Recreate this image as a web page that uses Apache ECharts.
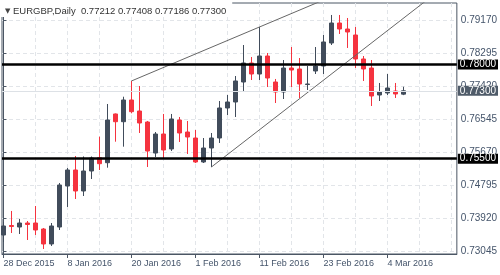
<!DOCTYPE html>
<html><head><meta charset="utf-8">
<script src="https://cdn.jsdelivr.net/npm/echarts@6/dist/echarts.min.js"></script>
<style>html,body{margin:0;padding:0;background:#fff}#c{width:500px;height:275px}</style>
</head><body><div id="c"></div>
<script>
const dates = ['28 Dec 2015','29 Dec 2015','30 Dec 2015','31 Dec 2015','4 Jan 2016','5 Jan 2016','6 Jan 2016','7 Jan 2016',
  '8 Jan 2016','11 Jan 2016','12 Jan 2016','13 Jan 2016','14 Jan 2016','15 Jan 2016','18 Jan 2016','19 Jan 2016',
  '20 Jan 2016','21 Jan 2016','22 Jan 2016','25 Jan 2016','26 Jan 2016','27 Jan 2016','28 Jan 2016','29 Jan 2016',
  '1 Feb 2016','2 Feb 2016','3 Feb 2016','4 Feb 2016','5 Feb 2016','8 Feb 2016','9 Feb 2016','10 Feb 2016',
  '11 Feb 2016','12 Feb 2016','15 Feb 2016','16 Feb 2016','17 Feb 2016','18 Feb 2016','19 Feb 2016','22 Feb 2016',
  '23 Feb 2016','24 Feb 2016','25 Feb 2016','26 Feb 2016','29 Feb 2016','1 Mar 2016','2 Mar 2016','3 Mar 2016',
  '4 Mar 2016','7 Mar 2016','8 Mar 2016'];
const open = [0.73477,0.73729,0.73689,0.73795,0.73795,0.73636,0.73239,0.73689,0.74776,0.75201,0.74644,0.75174,0.75527,0.75394,0.76686,0.76481,0.77057,0.76765,0.76473,0.75651,0.76155,0.75758,0.76526,0.76208,0.76049,0.75413,0.75784,0.76049,0.76845,0.77004,0.77534,0.78038,0.77746,0.78223,0.77534,0.77269,0.77905,0.77879,0.77468,0.77826,0.77958,0.78568,0.79098,0.78939,0.78780,0.78144,0.77905,0.77189,0.77242,0.77295,0.77212];
const close = [0.73716,0.73703,0.73795,0.73756,0.73610,0.73239,0.73716,0.74803,0.75201,0.74644,0.75174,0.75519,0.75368,0.76526,0.76481,0.77057,0.76747,0.76447,0.75704,0.76155,0.75731,0.76553,0.76182,0.76076,0.75413,0.75784,0.76049,0.76845,0.77004,0.77561,0.78038,0.77746,0.78223,0.77640,0.77269,0.77905,0.77852,0.77481,0.77481,0.77958,0.78595,0.79098,0.78939,0.78860,0.78144,0.77879,0.77163,0.77269,0.77375,0.77216,0.77300];
const high = [0.73822,0.74114,0.73901,0.73848,0.74246,0.73663,0.73795,0.74856,0.75254,0.75572,0.75560,0.75559,0.76084,0.76951,0.76699,0.77144,0.77561,0.77428,0.76500,0.76208,0.76686,0.76686,0.76606,0.76500,0.76261,0.76049,0.76182,0.77030,0.77189,0.77693,0.78515,0.78197,0.78992,0.78303,0.77614,0.78117,0.78462,0.78170,0.77958,0.78462,0.78780,0.79311,0.79311,0.79231,0.78992,0.78223,0.78117,0.77508,0.77746,0.77508,0.77408];
const low = [0.73292,0.73530,0.73504,0.73345,0.73477,0.73106,0.73186,0.73610,0.74220,0.74432,0.74511,0.74962,0.75201,0.75262,0.75951,0.75819,0.76704,0.76182,0.75280,0.75545,0.75492,0.75704,0.75943,0.75625,0.75386,0.75386,0.75280,0.75917,0.76659,0.76606,0.77295,0.77587,0.77587,0.77401,0.76977,0.77083,0.77401,0.77110,0.77322,0.77746,0.77746,0.78515,0.78807,0.78436,0.77905,0.77561,0.76898,0.77030,0.77189,0.77110,0.77186];
const labelIdx = [0,8,16,24,32,40,48];
const gridIdx = [0,4,8,12,16,20,24,28,32,36,40,44,48,52,56];
const yTicks = [0.73045,0.73920,0.74795,0.75670,0.76545,0.77420,0.78295,0.79170];
const levels = [0.78000,0.75500];
const bid = 0.77300;
const upperTrend = [[16,0.77561],[40,0.79707]];
const lowerTrend = [[26,0.75280],[54,0.79881]];
const titleText = 'EURGBP,Daily  0.77212 0.77408 0.77186 0.77300';

const FONT = 'Liberation Sans, Arial, sans-serif';
const candles = dates.map((d,i)=>[i, open[i], close[i], low[i], high[i]]);
const xMin = -0.1875, xMax = 56.6875;

const levelLines = levels.map(v=>({
  yAxis: v,
  lineStyle:{color:'#000', width:2.5, type:'solid'},
  label:{show:true, position:'end', distance:1, formatter: ()=>v.toFixed(5),
    backgroundColor:'#000', color:'#fff', fontFamily:FONT, fontSize:10, lineHeight:10, padding:[0,2,0,2]}
}));
levelLines.unshift({
  yAxis: bid,
  lineStyle:{color:'#dde1e6', width:1, type:'solid'},
  label:{show:true, position:'end', distance:1, formatter: ()=>bid.toFixed(5),
    backgroundColor:'#4f5b69', color:'#fff', fontFamily:FONT, fontSize:10, lineHeight:10, padding:[0,2,0,2]}
});

const chart = echarts.init(document.getElementById('c'), null, {renderer:'canvas'});
chart.setOption({
  animation:false,
  backgroundColor:'#fff',
  title:{
    left:0, top:0, padding:[5,6,0,5], backgroundColor:'#fff',
    text:'{t|▼} ' + titleText,
    textStyle:{fontFamily:FONT, fontSize:9.5, fontWeight:'normal', color:'#333', lineHeight:12,
      rich:{t:{fontFamily:'DejaVu Sans', fontSize:7, color:'#444'}}}
  },
  grid:{left:2, right:43, top:3, bottom:21, show:true, borderColor:'#4b5664', borderWidth:1, backgroundColor:'transparent'},
  xAxis:[{
    type:'value', min:xMin, max:xMax,
    axisLine:{show:true, lineStyle:{color:'#4b5664', width:1}},
    axisTick:{show:true, length:4, customValues:labelIdx, lineStyle:{color:'#4b5664'}},
    axisLabel:{show:true, customValues:labelIdx, align:'left', margin:5, fontFamily:FONT, fontSize:9, color:'#44546a',
      formatter:(v)=>dates[Math.round(v)] || ''},
    splitLine:{show:false}
  },{
    type:'value', min:xMin, max:xMax, position:'bottom',
    axisLine:{show:false},
    axisTick:{show:false, customValues:gridIdx},
    axisLabel:{show:false},
    splitLine:{show:true, lineStyle:{color:'#e2e5e9', type:[4,3], width:1}}
  }],
  yAxis:{
    type:'value', position:'right', min:0.729734, max:0.796287, scale:true,
    axisLine:{show:true, lineStyle:{color:'#4b5664', width:1}},
    axisTick:{show:true, length:3, inside:false, customValues:yTicks, lineStyle:{color:'#4b5664'}},
    axisLabel:{show:true, customValues:yTicks, margin:4, fontFamily:FONT, fontSize:10, color:'#44546a',
      formatter:(v)=>v.toFixed(5)},
    splitLine:{show:true, lineStyle:{color:'#e2e5e9', type:[4,3], width:1}}
  },
  series:[{
    type:'candlestick', xAxisIndex:0, yAxisIndex:0,
    data:candles, encode:{x:0, y:[1,2,3,4]},
    barWidth:5, clip:true,
    itemStyle:{color:'#414c5b', color0:'#f5333f', borderColor:'#414c5b', borderColor0:'#f5333f', borderWidth:1},
    markLine:{silent:true, symbol:['none','none'], animation:false, precision:5, data:levelLines}
  },{
    type:'line', xAxisIndex:0, yAxisIndex:0, data:upperTrend, symbol:'none', clip:true, silent:true,
    lineStyle:{color:'#666', width:1}
  },{
    type:'line', xAxisIndex:0, yAxisIndex:0, data:lowerTrend, symbol:'none', clip:true, silent:true,
    lineStyle:{color:'#666', width:1}
  }]
});
</script>
</body></html>
